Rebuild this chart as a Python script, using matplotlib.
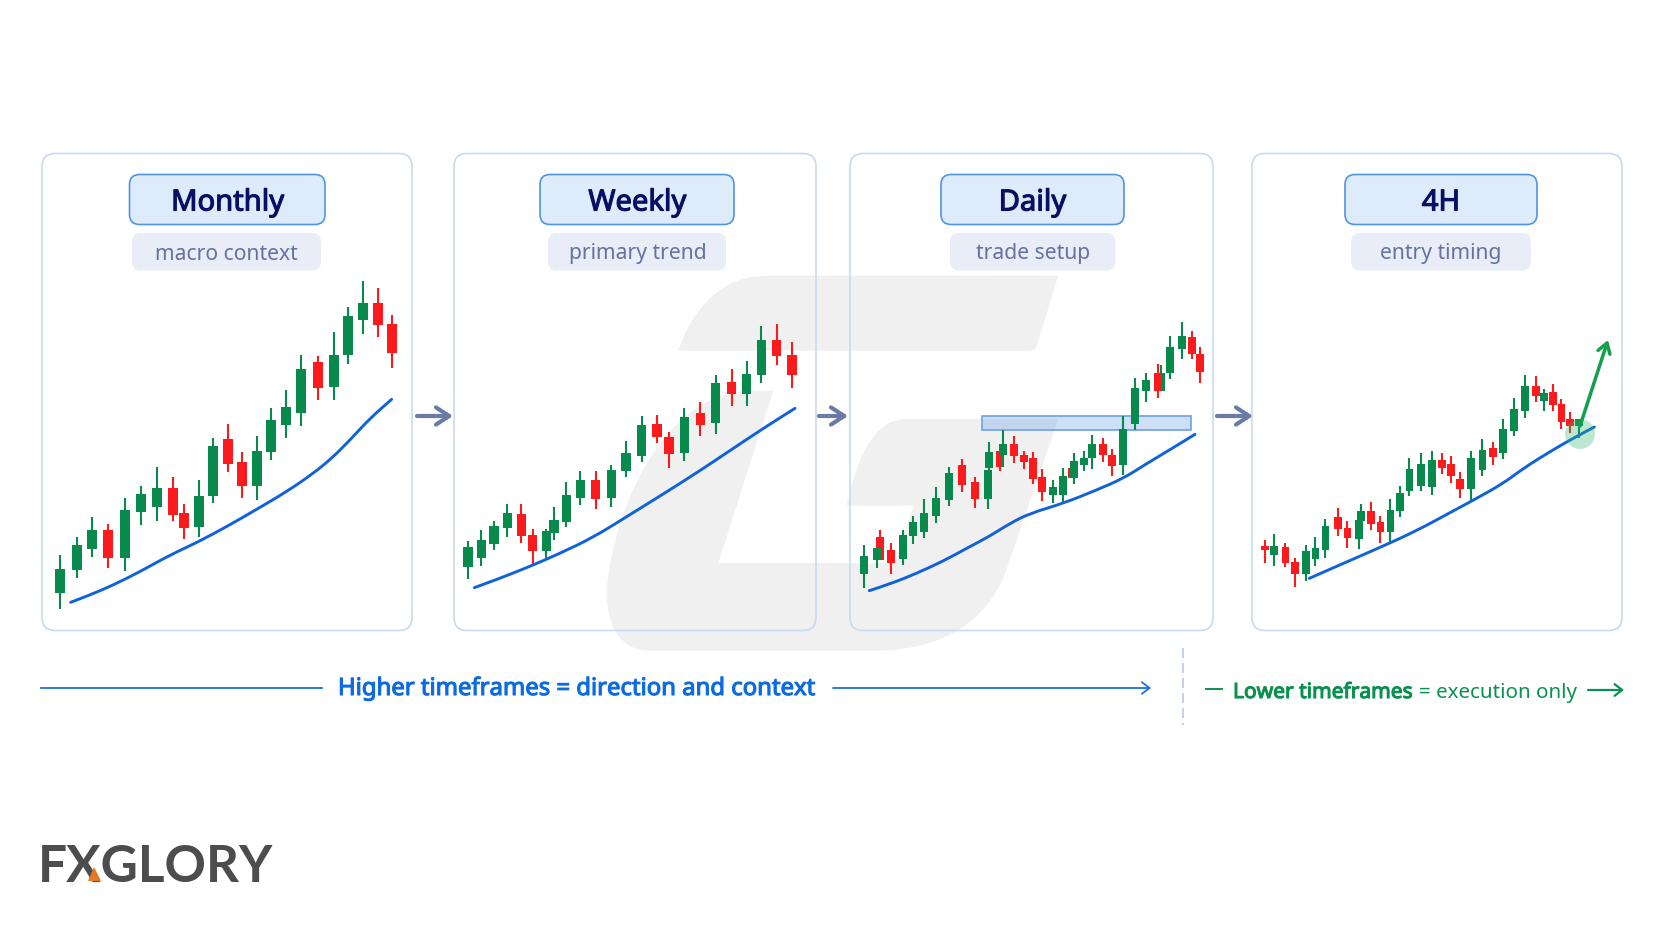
import matplotlib
matplotlib.use("Agg")
import matplotlib.pyplot as plt
import matplotlib.patheffects as pe
from matplotlib.path import Path
from matplotlib.patches import FancyBboxPatch, PathPatch, Polygon, Circle, Rectangle

plt.rcParams['font.family'] = ['Noto Sans', 'DejaVu Sans']

# ---------- data: candles (open, high, low, close on a common price scale)
m_x = [89,140,187,235,285,333,381,429,463,507,549,595,636,682,722,767,813,863,911,953,999,1043,1085]
m_high = [314,368,429,408,486,522,580,549,469,540,667,709,624,671,755,810,915,911,985,1060,1136,1116,1034]
m_low = [152,245,308,276,267,405,417,417,364,368,471,565,485,479,600,665,703,779,779,889,978,969,877]
m_open = [200,270,333,390,307,443,458,516,440,399,493,662,593,522,623,705,741,893,819,914,1019,1071,1007]
m_close = [273,345,391,307,451,497,516,436,397,492,642,588,522,627,719,759,873,815,916,1031,1071,1005,921]
m_ma_x = [122,180,250,330,420,500,590,680,770,850,905,960,1020,1085]
m_ma = [173,195,225,265,315,352,400,452,505,560,605,660,725,782]

w_x = [54,94,132,172,214,248,289,312,349,391,437,484,528,575,621,657,703,751,797,845,890,934,980,1026]
w_high = [478,510,538,588,588,514,512,580,654,686,688,706,776,852,856,805,875,893,974,993,1016,1123,1128,1073]
w_low = [362,401,450,490,471,405,425,480,520,584,572,580,668,714,771,695,716,792,798,881,882,952,1006,937]
w_open = [400,425,469,515,557,496,448,500,535,607,660,606,688,732,829,789,740,861,830,954,919,975,1081,1036]
w_close = [458,480,523,560,492,447,508,540,615,660,604,691,740,824,788,738,848,825,951,917,979,1079,1032,975]
w_ma_x = [73,150,245,330,430,530,640,750,850,940,1035]
w_ma = [337,365,403,440,488,550,618,688,755,815,875]

d_x = [41,90,80,124,159,190,221,259,296,337,374,413,416,451,459,493,521,548,576,610,640,665,673,701,727,759,785,819,855,889,932,925,960,995,1025,1049]
d_high = [464,510,455,472,511,552,602,640,700,724,670,690,775,750,810,793,748,744,692,660,695,695,740,747,795,785,754,853,967,982,1005,1007,1092,1135,1108,1059]
d_low = [335,420,395,377,405,467,485,530,582,625,577,572,690,687,700,710,694,648,597,592,595,665,648,686,693,715,673,675,810,894,927,905,962,1024,1023,952]
d_open = [377,488,420,450,424,492,505,552,600,706,653,603,695,748,735,769,735,726,668,615,615,695,665,705,726,769,734,705,829,927,927,980,980,1052,1090,1038]
d_close = [432,420,455,412,495,535,562,607,682,644,603,690,745,700,768,731,713,662,625,639,671,665,716,727,769,734,703,814,936,959,980,927,1060,1092,1038,984]
d_ma_x = [58,120,200,280,350,420,480,540,640,740,820,880,950,1035]
d_ma = [328,348,380,417,455,492,530,560,590,630,665,703,745,797]
d_zone_x = [395, 1022]
d_zone_y = [810, 852]

h_x = [44,71,106,135,167,196,226,264,292,326,333,363,391,421,450,478,513,545,575,603,630,663,697,728,758,791,824,858,882,908,934,960,986]
h_high = [540,557,530,485,524,548,603,635,596,600,648,653,613,663,703,785,800,807,802,792,743,807,842,834,904,966,1036,1032,994,1009,962,923,903]
h_low = [470,462,459,400,418,462,486,553,515,513,580,570,532,535,610,672,686,675,737,712,666,660,733,765,783,852,907,953,927,928,874,862,847]
h_open = [523,494,518,473,438,483,510,610,576,543,597,627,594,564,626,687,703,699,779,768,724,693,750,815,800,868,927,1003,958,984,948,903,882]
h_close = [509,523,471,438,506,515,583,572,547,600,627,589,564,630,682,752,767,779,755,731,693,785,811,789,873,933,1003,971,982,946,895,883,903]
h_ma_x = [178,280,400,500,600,680,760,820,900,960,1033]
h_ma = [425,470,522,568,622,665,710,755,805,840,879]
h_touch = (990, 858)
h_arrow = [(990, 882), (1074, 1140)]

titles = ["Monthly", "Weekly", "Daily", "4H"]
subtitles = ["macro context", "primary trend", "trade setup", "entry timing"]
higher_label = "Higher timeframes = direction and context"
lower_bold = "Lower timeframes"
lower_rest = "= execution only"
brand = "FXGLORY"

# ---------- style
W, H = 1664, 928
OFF = 1
GREEN, RED, BLUE = '#078a4b', '#fb1a1c', '#0f62dc'
PANEL_EDGE = '#c8daf1'
panels = [(42, 412), (454, 816), (850, 1213), (1252, 1622)]
title_boxes = [(129.5, 325), (540, 734), (941, 1124), (1345, 1537)]
sub_boxes = [(132, 321), (548, 726), (950, 1115.5), (1351, 1531)]
sub_cx = [226, 638, 1033, 1441]
crops = [(30, 260, 400, 380), (450, 300, 380, 340), (850, 300, 380, 340), (1250, 320, 380, 300)]
body_w = [30, 29, 24, 23]

fig = plt.figure(figsize=(W / 100, H / 100), dpi=100, facecolor='white')
bg = fig.add_axes([0, 0, 1, 1], zorder=0)
bg.set_xlim(0, W); bg.set_ylim(H - OFF, -OFF); bg.axis('off')

def heavy(color, w):
    return [pe.Stroke(linewidth=w, foreground=color), pe.Normal()]

# watermark (two rounded pieces of the brand mark)
M, L, Q, C, Z = Path.MOVETO, Path.LINETO, Path.CURVE3, Path.CURVE4, Path.CLOSEPOLY
wm1 = [(M,(1405,50)),(L,(1340,262)),(Q,(1335,275)),(Q,(1320,275)),(L,(265,275)),
       (C,(300,170)),(C,(380,50)),(C,(530,50)),(Z,(1405,50))]
wm2 = [(M,(550,395)),(L,(385,912)),(L,(915,912)),(L,(970,740)),(L,(770,740)),
       (C,(800,600)),(C,(850,480)),(C,(950,480)),(L,(1405,480)),(L,(1250,930)),
       (C,(1200,1070)),(C,(1080,1175)),(C,(850,1175)),(L,(180,1175)),
       (C,(90,1175)),(C,(50,1100)),(C,(50,1000)),
       (C,(60,800)),(C,(200,395)),(C,(490,395)),(Z,(550,395))]
for piece in (wm1, wm2):
    codes = [c for c, _ in piece]
    verts = [(590 + p[0] / 3, 260 + p[1] / 3 - OFF) for _, p in piece]
    bg.add_patch(PathPatch(Path(verts, codes), fc='#f0f0f0', ec='none', zorder=1))

def rbox(x0, x1, y0, y1, r, fc, ec, lw, z=2):
    bg.add_patch(FancyBboxPatch((x0, y0), x1 - x0, y1 - y0, boxstyle=f"round,pad=0,rounding_size={r}",
                                fc=fc, ec=ec, lw=lw, zorder=z))

for i, (x0, x1) in enumerate(panels):
    rbox(x0, x1, 153.5, 630.5, 13, 'none', PANEL_EDGE, 1.2)
    a, b = title_boxes[i]
    rbox(a, b, 174.5, 224.5, 10, '#deebfb', '#4f95e3', 1.2, 3)
    bg.text((a + b) / 2 + (0.5 if i < 2 else 0), 203, titles[i], ha='center', va='center',
            fontsize=21, color='#0a0f66', zorder=4, path_effects=heavy('#0a0f66', 0.8))
    a, b = sub_boxes[i]
    rbox(a, b, 233, 270.5, 9, '#e8edf7', 'none', 0, 3)
    bg.text(sub_cx[i], 253, subtitles[i], ha='center', va='center', fontsize=15.2, color='#6473a0', zorder=4)

# arrows between panels
for x0, x1 in [(417, 453), (819, 848), (1217, 1253)]:
    bg.annotate('', xy=(x1, 416), xytext=(x0, 416), zorder=3,
                arrowprops=dict(arrowstyle='->,head_length=0.95,head_width=0.62', lw=3, color='#6a7aa6',
                                shrinkA=0, shrinkB=0))

# bottom captions
LINE_BLUE = '#1a6fe0'
bg.plot([41, 322], [688, 688], color=LINE_BLUE, lw=1.3, zorder=3)
bg.annotate('', xy=(1151, 688), xytext=(833, 688), zorder=3,
            arrowprops=dict(arrowstyle='->,head_length=0.55,head_width=0.42', lw=1.3, color=LINE_BLUE,
                            shrinkA=0, shrinkB=0))
bg.text(338, 689, higher_label, ha='left', va='center', fontsize=17.2, color='#0d6be0', zorder=4,
        path_effects=heavy('#0d6be0', 0.8))
bg.plot([1182.7, 1182.7], [648, 725], color='#b9c8ea', lw=1.2, ls=(0, (6, 3)), zorder=3)
GTXT = '#0a9150'
bg.plot([1206, 1222], [689, 689], color=GTXT, lw=1.4, zorder=3)
bg.text(1233, 692.5, lower_bold, ha='left', va='center', fontsize=15.1, color=GTXT, zorder=4,
        path_effects=heavy(GTXT, 0.8))
bg.text(1419, 692.5, lower_rest, ha='left', va='center', fontsize=14.8, color=GTXT, zorder=4)
bg.annotate('', xy=(1624, 690), xytext=(1588, 690), zorder=3,
            arrowprops=dict(arrowstyle='->,head_length=0.55,head_width=0.42', lw=1.6, color=GTXT,
                            shrinkA=0, shrinkB=0))

# logo
bg.text(38, 881, brand, ha='left', va='baseline', fontsize=37, fontweight='bold', color='#4d4d4f',
        family=['Lato', 'DejaVu Sans'], zorder=4)
bg.add_patch(Polygon([(88, 881), (101, 881), (94, 867)], closed=True, fc='#e87722', ec='none', zorder=5))

def smooth(ax, xs, ys, **kw):
    verts = [(xs[0], ys[0])]
    codes = [Path.MOVETO]
    for i in range(1, len(xs) - 1):
        verts += [(xs[i], ys[i]), ((xs[i] + xs[i + 1]) / 2, (ys[i] + ys[i + 1]) / 2)]
        codes += [Path.CURVE3, Path.CURVE3]
    verts.append((xs[-1], ys[-1]))
    codes.append(Path.LINETO)
    ax.add_patch(PathPatch(Path(verts, codes), fc='none', **kw))

def chart(crop, x, high, low, opn, close, ma_x, ma, width):
    cx, cy, cw, ch = crop
    ax = fig.add_axes([cx / W, 1 - (cy + OFF + ch) / H, cw / W, ch / H], zorder=1)
    ax.patch.set_alpha(0)
    ax.set_xlim(0, 3 * cw)
    ax.set_ylim(1200 - 3 * ch, 1200)
    ax.axis('off')
    for i in range(len(x)):
        c = GREEN if close[i] >= opn[i] else RED
        ax.vlines(x[i], low[i], high[i], color=c, lw=1.5, zorder=3 + i * 0.01)
        ax.bar(x[i], abs(close[i] - opn[i]), bottom=min(opn[i], close[i]), width=width, color=c,
               zorder=3 + i * 0.01)
    smooth(ax, ma_x, ma, ec=BLUE, lw=2.1, capstyle='round', joinstyle='round', zorder=5)
    return ax

chart(crops[0], m_x, m_high, m_low, m_open, m_close, m_ma_x, m_ma, body_w[0])
chart(crops[1], w_x, w_high, w_low, w_open, w_close, w_ma_x, w_ma, body_w[1])
ax_d = chart(crops[2], d_x, d_high, d_low, d_open, d_close, d_ma_x, d_ma, body_w[2])
ax_h = chart(crops[3], h_x, h_high, h_low, h_open, h_close, h_ma_x, h_ma, body_w[3])

ax_d.add_patch(Rectangle((d_zone_x[0], d_zone_y[0]), d_zone_x[1] - d_zone_x[0], d_zone_y[1] - d_zone_y[0],
                         fc='#4f8fe8', alpha=0.28, ec='none', zorder=2))
ax_d.add_patch(Rectangle((d_zone_x[0], d_zone_y[0]), d_zone_x[1] - d_zone_x[0], d_zone_y[1] - d_zone_y[0],
                         fc='none', ec='#6fa0e8', lw=1.2, zorder=2.5))

ax_h.add_patch(Circle(h_touch, 45, fc='#2fb56d', alpha=0.32, ec='none', zorder=6))
ax_h.annotate('', xy=h_arrow[1], xytext=h_arrow[0], zorder=7,
              arrowprops=dict(arrowstyle='->,head_length=0.7,head_width=0.45', lw=2.5, color='#12a04f',
                              shrinkA=0, shrinkB=0))

fig.savefig('out.png', dpi=100, facecolor='white')
